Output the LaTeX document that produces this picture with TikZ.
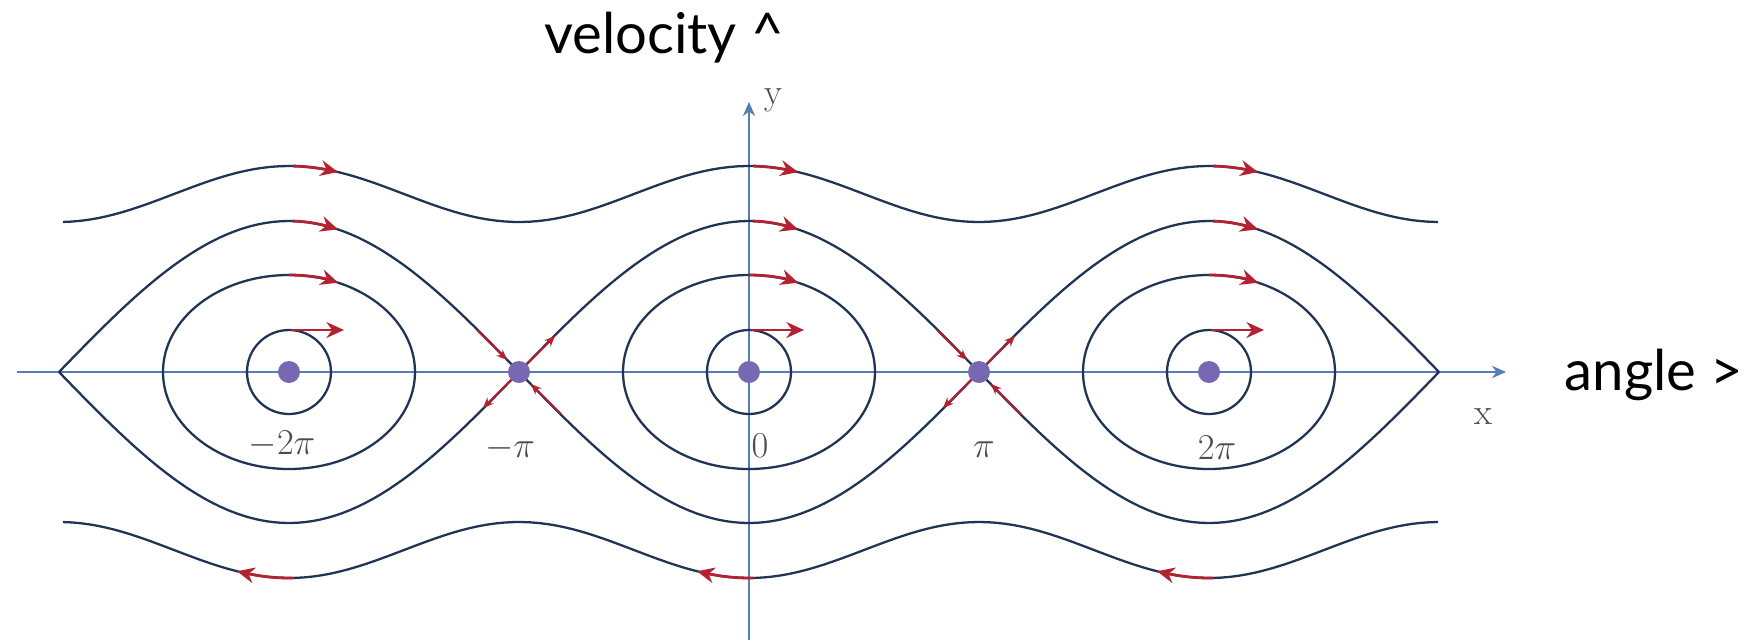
\documentclass[tikz,border=0pt]{standalone}
\usepackage{fontspec}
\newfontfamily\labelfont{Lato}
\usetikzlibrary{arrows.meta}
\definecolor{orbit}{RGB}{32,52,84}
\definecolor{axisblue}{RGB}{84,126,180}
\definecolor{flow}{RGB}{178,34,48}
\definecolor{fixpt}{RGB}{118,104,178}

\begin{document}
\begin{tikzpicture}[x=0.02cm,y=0.02cm,>=Stealth,
     orbit/.style={draw=orbit,line width=1.3pt},
     axisline/.style={draw=axisblue,line width=1.4pt,-{Stealth[length=8pt,width=7pt]}},
     flow/.style={draw=flow,line width=1.6pt,-{Stealth[length=10pt,width=9pt]}},
     flowback/.style={draw=flow,line width=1.6pt,{Stealth[length=10pt,width=9pt]}-},
     saddle/.style={draw=flow,line width=1.1pt,-{Stealth[length=6pt,width=5pt]}},
     eq/.style={circle,fill=fixpt,inner sep=0pt,minimum size=0.44cm},
     tick/.style={text=black!70,font=\fontsize{21}{24}\selectfont},
     axlabel/.style={anchor=base,font=\labelfont\fontsize{32}{38}\selectfont}]
    \useasboundingbox (-749,-268) rectangle (1011,372);
    \coordinate (xl) at (-732,0);
    \coordinate (xr) at (757,0);
    \coordinate (yb) at (0,-268);
    \coordinate (yt) at (0,270);
    \draw[axisline] (xl) -- (xr);
    \draw[axisline,line width=1pt] (yb) -- (yt);
    \foreach \c in {-460,0,460} {
      \draw[orbit] (\c,0) circle[radius=42];
      \draw[orbit] (\c,0) ellipse[x radius=126,y radius=97];
      \draw[orbit] plot[domain=\c-230:\c+230,samples=61] (\x,{151*cos((\x-\c)/230*90)});
      \draw[orbit] plot[domain=\c-230:\c+230,samples=61] (\x,{-151*cos((\x-\c)/230*90)});
    }
    \draw[orbit] plot[domain=-686:689,samples=160] (\x,{178+28*cos(\x/230*180)});
    \draw[orbit] plot[domain=-686:689,samples=160] (\x,{-178-28*cos(\x/230*180)});
    \foreach \c in {-460,0,460} {
      \draw[flow] plot[domain=\c+4:\c+49,samples=10] (\x,{178+28*cos(\x/230*180)});
      \draw[flow] plot[domain=\c+4:\c+49,samples=10] (\x,{151*cos((\x-\c)/230*90)});
      \draw[flow] (\c,97) arc[start angle=90,end angle=67,x radius=126,y radius=97];
      \draw[flow] (\c+2,42) -- (\c+55,42);
      \draw[flowback] plot[domain=\c-52:\c+4,samples=10] (\x,{-178-28*cos(\x/230*180)});
    }
    \foreach \s in {-230,230} {
      \draw[saddle] (\s+6,6) -- (\s+36,36);
      \draw[saddle] (\s-6,-6) -- (\s-36,-36);
      \draw[saddle] (\s-42,42) -- (\s-12,12);
      \draw[saddle] (\s+42,-42) -- (\s+12,-12);
    }
    \node[eq] (mtwopi) at (-460,0) {};
    \node[eq] (mpi) at (-230,0) {};
    \node[eq] (zero) at (0,0) {};
    \node[eq] (pi) at (230,0) {};
    \node[eq] (twopi) at (460,0) {};
    \node[tick] (lmtwopi) at (-467,-72) {$-2\pi$};
    \node[tick] (lmpi) at (-239,-76) {$-\pi$};
    \node[tick] (lzero) at (11,-74) {$0$};
    \node[tick] (lpi) at (235,-78) {$\pi$};
    \node[tick] (ltwopi) at (468,-76) {$2\pi$};
    \node[tick] (xname) at (734,-45) {x};
    \node[tick] (yname) at (24,272) {y};
    \node[axlabel] (vel) at (-85,319) {velocity \textasciicircum};
    \node[axlabel] (ang) at (905,-18) {angle >};
  \end{tikzpicture}
\end{document}
